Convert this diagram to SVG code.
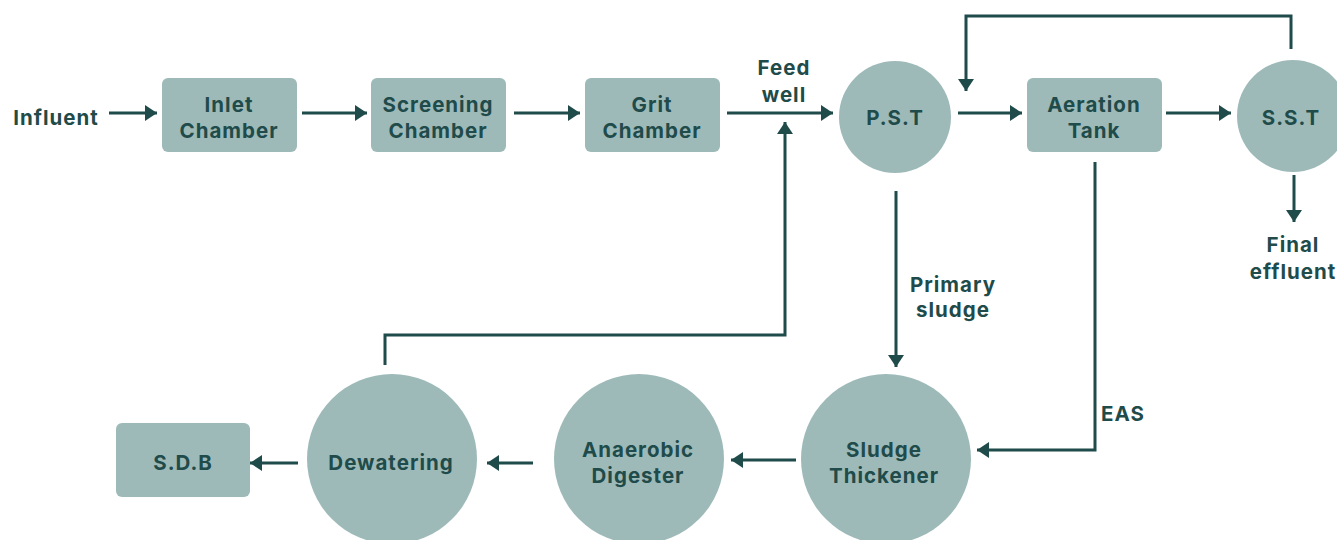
<svg xmlns="http://www.w3.org/2000/svg" width="1337" height="540" viewBox="0 0 1337 540">
<style>
.n{fill:#9dbab9}
.t{font-family:Inter,"Liberation Sans",sans-serif;font-weight:700;font-size:20.5px;fill:#1f4b4a;text-anchor:middle;letter-spacing:1px}
.c{fill:none;stroke:#1f4b4a;stroke-width:3}
</style>
<defs>
<marker id="a" markerUnits="userSpaceOnUse" markerWidth="14" markerHeight="16" refX="12" refY="8" orient="auto">
<path d="M0,0 L12,8 L0,16 Z" fill="#1f4b4a"/>
</marker>
</defs>
<rect width="1337" height="540" fill="#fff"/>
<g id="connectors">
<path class="c" marker-end="url(#a)" d="M109,113 H157"/>
<path class="c" marker-end="url(#a)" d="M302,113 H367"/>
<path class="c" marker-end="url(#a)" d="M514,113 H580"/>
<path class="c" marker-end="url(#a)" d="M727,113 H833"/>
<path class="c" marker-end="url(#a)" d="M958,113 H1022"/>
<path class="c" marker-end="url(#a)" d="M1166,113 H1231"/>
<path class="c" marker-end="url(#a)" d="M1291,49 V16 H966 V91"/>
<path class="c" marker-end="url(#a)" d="M1294,175 V222"/>
<path class="c" marker-end="url(#a)" d="M896,191 V367"/>
<path class="c" marker-end="url(#a)" d="M1095,162 V450 H977"/>
<path class="c" marker-end="url(#a)" d="M796,460 H731"/>
<path class="c" marker-end="url(#a)" d="M533,463 H487"/>
<path class="c" marker-end="url(#a)" d="M298,463 H250"/>
<path class="c" marker-end="url(#a)" d="M385,365 V335 H785 V122"/>
</g>
<g id="influent"><text class="t" x="56" y="125">Influent</text></g>
<g id="inlet"><rect class="n" x="162" y="78" width="135" height="74" rx="6"/><text class="t" x="229" y="112">Inlet</text><text class="t" x="229" y="138">Chamber</text></g>
<g id="screening"><rect class="n" x="371" y="78" width="135" height="74" rx="6"/><text class="t" x="438" y="112">Screening</text><text class="t" x="438" y="138">Chamber</text></g>
<g id="grit"><rect class="n" x="585" y="78" width="135" height="74" rx="6"/><text class="t" x="652" y="112">Grit</text><text class="t" x="652" y="138">Chamber</text></g>
<g id="feedwell"><text class="t" x="784" y="75">Feed</text><text class="t" x="784" y="102">well</text></g>
<g id="pst"><circle class="n" cx="895" cy="117" r="56"/><text class="t" x="895" y="125">P.S.T</text></g>
<g id="aeration"><rect class="n" x="1027" y="78" width="135" height="74" rx="6"/><text class="t" x="1094" y="112">Aeration</text><text class="t" x="1094" y="138">Tank</text></g>
<g id="sst"><circle class="n" cx="1293" cy="116" r="56"/><text class="t" x="1291" y="125">S.S.T</text></g>
<g id="final"><text class="t" x="1293" y="252">Final</text><text class="t" x="1293" y="279">effluent</text></g>
<g id="primary"><text class="t" x="953" y="292">Primary</text><text class="t" x="953" y="317">sludge</text></g>
<g id="eas"><text class="t" x="1123" y="421">EAS</text></g>
<g id="thickener"><circle class="n" cx="886" cy="459" r="85"/><text class="t" x="884" y="457">Sludge</text><text class="t" x="884" y="483">Thickener</text></g>
<g id="digester"><circle class="n" cx="639" cy="459" r="85"/><text class="t" x="638" y="457">Anaerobic</text><text class="t" x="638" y="483">Digester</text></g>
<g id="dewatering"><circle class="n" cx="392" cy="459" r="85"/><text class="t" x="391" y="470">Dewatering</text></g>
<g id="sdb"><rect class="n" x="116" y="423" width="134" height="74" rx="6"/><text class="t" x="183" y="470">S.D.B</text></g>
</svg>
